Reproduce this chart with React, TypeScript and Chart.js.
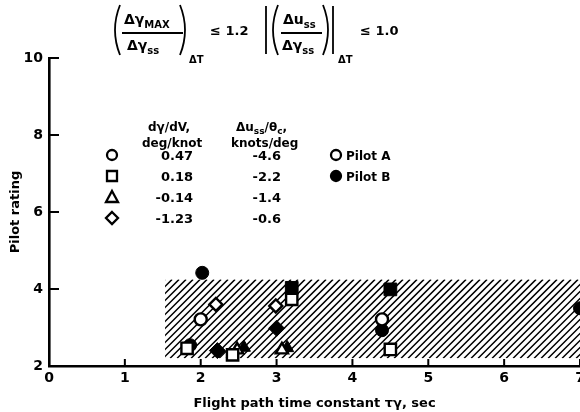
import React, { useEffect, useRef } from "react";
import { Chart, registerables } from "chart.js";

Chart.register(...registerables);

// ---- data ----
const TAU_A_CIRCLE = [2.0, 4.39];
const RATING_A_CIRCLE = [3.21, 3.21];
const TAU_B_CIRCLE = [2.02, 1.86, 4.39, 7.0];
const RATING_B_CIRCLE = [4.42, 2.54, 2.93, 3.5];
const TAU_A_SQUARE = [1.82, 2.42, 3.2, 4.5];
const RATING_A_SQUARE = [2.46, 2.29, 3.73, 2.43];
const TAU_B_SQUARE = [3.2, 4.5];
const RATING_B_SQUARE = [4.03, 3.99];
const TAU_A_TRIANGLE = [2.48, 3.07];
const RATING_A_TRIANGLE = [2.42, 2.42];
const TAU_B_TRIANGLE = [2.57, 3.14];
const RATING_B_TRIANGLE = [2.48, 2.47];
const TAU_A_DIAMOND = [2.2, 2.99];
const RATING_A_DIAMOND = [3.6, 3.56];
const TAU_B_DIAMOND = [2.22, 3.0];
const RATING_B_DIAMOND = [2.4, 2.98];

const HATCH_TAU = [1.53, 7.3];
const HATCH_RATING = [2.2, 4.25];

const X_TICKS = [0, 1, 2, 3, 4, 5, 6, 7];
const Y_TICKS = [2, 4, 6, 8, 10];

const SLOPES = ["0.47", "0.18", "-0.14", "-1.23"];
const DU_RATIOS = ["-4.6", "-2.2", "-1.4", "-0.6"];
const LEGEND_SYMBOLS = ["circle", "rect", "triangle", "rectRot"];
const PILOTS = ["Pilot A", "Pilot B"];

const FONT = '"DejaVu Sans", sans-serif';

const pts = (xs: number[], ys: number[]) => xs.map((x, i) => ({ x, y: ys[i] }));

function drawSymbol(ctx: CanvasRenderingContext2D, style: string, x: number, y: number, filled: boolean) {
  ctx.save();
  ctx.lineWidth = 2.3;
  ctx.strokeStyle = "#000";
  ctx.fillStyle = filled ? "#000" : "#fff";
  ctx.beginPath();
  if (style === "circle") {
    ctx.arc(x, y, 5, 0, Math.PI * 2);
  } else if (style === "rect") {
    ctx.rect(x - 5, y - 5, 10, 10);
  } else if (style === "triangle") {
    ctx.moveTo(x, y - 6);
    ctx.lineTo(x + 6, y + 5);
    ctx.lineTo(x - 6, y + 5);
    ctx.closePath();
  } else {
    ctx.moveTo(x, y - 6);
    ctx.lineTo(x + 6, y);
    ctx.lineTo(x, y + 6);
    ctx.lineTo(x - 6, y);
    ctx.closePath();
  }
  ctx.fill();
  ctx.stroke();
  ctx.restore();
}

type Part = { t: string; sub?: boolean };

function drawRich(ctx: CanvasRenderingContext2D, parts: Part[], x: number, y: number, size: number, align: "left" | "right" = "left") {
  const subSize = Math.round(size * 0.72);
  let w = 0;
  for (const p of parts) {
    ctx.font = `bold ${p.sub ? subSize : size}px ${FONT}`;
    w += ctx.measureText(p.t).width;
  }
  let cx = align === "right" ? x - w : x;
  ctx.textAlign = "left";
  ctx.textBaseline = "alphabetic";
  for (const p of parts) {
    ctx.font = `bold ${p.sub ? subSize : size}px ${FONT}`;
    ctx.fillText(p.t, cx, p.sub ? y + size * 0.28 : y);
    cx += ctx.measureText(p.t).width;
  }
}

function paren(ctx: CanvasRenderingContext2D, x: number, top: number, bottom: number, dir: number) {
  ctx.beginPath();
  ctx.moveTo(x, top);
  ctx.quadraticCurveTo(x - dir * 10, (top + bottom) / 2, x, bottom);
  ctx.stroke();
}

function bar(ctx: CanvasRenderingContext2D, x: number, top: number, bottom: number) {
  ctx.beginPath();
  ctx.moveTo(x, top);
  ctx.lineTo(x, bottom);
  ctx.stroke();
}

const hatchPlugin = {
  id: "hatch",
  beforeDatasetsDraw(chart: any) {
    const { ctx, chartArea, scales } = chart;
    const l = scales.x.getPixelForValue(HATCH_TAU[0]);
    const r = Math.min(scales.x.getPixelForValue(HATCH_TAU[1]), chartArea.right);
    const t = scales.y.getPixelForValue(HATCH_RATING[1]);
    const b = scales.y.getPixelForValue(HATCH_RATING[0]);
    const h = b - t;
    ctx.save();
    ctx.beginPath();
    ctx.rect(l, t, r - l, h);
    ctx.clip();
    ctx.strokeStyle = "#000";
    ctx.lineWidth = 1.5;
    ctx.beginPath();
    for (let k = l - h; k < r + 7; k += 7) {
      ctx.moveTo(k, b);
      ctx.lineTo(k + h, t);
    }
    ctx.stroke();
    ctx.restore();
  },
};

const decoPlugin = {
  id: "deco",
  afterDraw(chart: any) {
    const { ctx, chartArea, scales } = chart;
    ctx.save();
    ctx.strokeStyle = "#000";
    ctx.fillStyle = "#000";
    // inward tick marks
    ctx.lineWidth = 2;
    ctx.beginPath();
    for (const v of Y_TICKS.slice(1)) {
      const y = scales.y.getPixelForValue(v);
      ctx.moveTo(chartArea.left, y);
      ctx.lineTo(chartArea.left + 10, y);
    }
    for (const v of X_TICKS.slice(1)) {
      const x = scales.x.getPixelForValue(v);
      ctx.moveTo(x, chartArea.bottom);
      ctx.lineTo(x, chartArea.bottom - 7);
    }
    ctx.stroke();

    // formula 1
    ctx.lineWidth = 1.8;
    paren(ctx, 120, 5, 55, 1);
    drawRich(ctx, [{ t: "Δγ" }, { t: "MAX", sub: true }], 124, 24, 14);
    ctx.beginPath();
    ctx.moveTo(122, 33);
    ctx.lineTo(183, 33);
    ctx.stroke();
    drawRich(ctx, [{ t: "Δγ" }, { t: "ss", sub: true }], 127, 50, 14);
    paren(ctx, 180, 5, 55, -1);
    drawRich(ctx, [{ t: "ΔT" }], 189, 63, 10);
    drawRich(ctx, [{ t: "≤ 1.2" }], 210, 35, 13);

    // formula 2
    bar(ctx, 266, 6, 54);
    paren(ctx, 278, 5, 55, 1);
    drawRich(ctx, [{ t: "Δu" }, { t: "ss", sub: true }], 283, 24, 14);
    ctx.beginPath();
    ctx.moveTo(281, 33);
    ctx.lineTo(322, 33);
    ctx.stroke();
    drawRich(ctx, [{ t: "Δγ" }, { t: "ss", sub: true }], 282, 50, 14);
    paren(ctx, 323, 5, 55, -1);
    bar(ctx, 333, 6, 54);
    drawRich(ctx, [{ t: "ΔT" }], 338, 63, 10);
    drawRich(ctx, [{ t: "≤ 1.0" }], 360, 35, 13);

    // table header
    drawRich(ctx, [{ t: "dγ/dV," }], 148, 131, 12);
    drawRich(ctx, [{ t: "deg/knot" }], 142, 147, 12);
    drawRich(ctx, [{ t: "Δu" }, { t: "ss", sub: true }, { t: "/θ" }, { t: "c", sub: true }, { t: "," }], 236, 131, 12);
    drawRich(ctx, [{ t: "knots/deg" }], 231, 147, 12);

    const rowY = [155, 176, 197, 218];
    rowY.forEach((y, i) => {
      drawSymbol(ctx, LEGEND_SYMBOLS[i], 112, y, false);
      drawRich(ctx, [{ t: SLOPES[i] }], 193, y + 5, 13, "right");
      drawRich(ctx, [{ t: DU_RATIOS[i] }], 281, y + 5, 13, "right");
    });
    PILOTS.forEach((p, i) => {
      drawSymbol(ctx, "circle", 336, rowY[i], i === 1);
      drawRich(ctx, [{ t: p }], 346, rowY[i] + 5, 12);
    });
    ctx.restore();
  },
};

export default function App() {
  const ref = useRef<HTMLCanvasElement>(null);
  useEffect(() => {
    if (!ref.current) return;
    const open = (label: string, style: string, radius: number, xs: number[], ys: number[]) => ({
      label,
      data: pts(xs, ys),
      pointStyle: style,
      pointRadius: radius,
      pointBackgroundColor: "#fff",
      pointBorderColor: "#000",
      pointBorderWidth: 2.4,
      showLine: false,
    });
    const filled = (label: string, style: string, radius: number, xs: number[], ys: number[]) => ({
      label,
      data: pts(xs, ys),
      pointStyle: style,
      pointRadius: radius,
      pointBackgroundColor: "#000",
      pointBorderColor: "#000",
      pointBorderWidth: 1,
      showLine: false,
    });
    const chart = new Chart(ref.current, {
      type: "scatter",
      data: {
        datasets: [
          open("Pilot A circle", "circle", 6, TAU_A_CIRCLE, RATING_A_CIRCLE),
          open("Pilot A square", "rect", 8, TAU_A_SQUARE, RATING_A_SQUARE),
          open("Pilot A triangle", "triangle", 7, TAU_A_TRIANGLE, RATING_A_TRIANGLE),
          open("Pilot A diamond", "rectRot", 6.5, TAU_A_DIAMOND, RATING_A_DIAMOND),
          filled("Pilot B circle", "circle", 6.5, TAU_B_CIRCLE, RATING_B_CIRCLE),
          filled("Pilot B square", "rect", 9, TAU_B_SQUARE, RATING_B_SQUARE),
          filled("Pilot B triangle", "triangle", 7.5, TAU_B_TRIANGLE, RATING_B_TRIANGLE),
          filled("Pilot B diamond", "rectRot", 8, TAU_B_DIAMOND, RATING_B_DIAMOND),
        ] as any,
      },
      options: {
        animation: false,
        responsive: false,
        devicePixelRatio: 1,
        layout: { autoPadding: false, padding: { top: 58, right: 0, bottom: 0, left: 0 } },
        plugins: { legend: { display: false }, tooltip: { enabled: false } },
        scales: {
          x: {
            type: "linear",
            min: 0,
            max: 7,
            afterFit: (s: any) => {
              s.height = 46;
              s.paddingLeft = 0;
              s.paddingRight = 0;
            },
            afterBuildTicks: (s: any) => {
              s.ticks = X_TICKS.map((v) => ({ value: v }));
            },
            grid: { display: false, drawTicks: false },
            border: { display: true, color: "#000", width: 2.6 },
            ticks: {
              autoSkip: false,
              maxRotation: 0,
              padding: 4,
              color: "#000",
              font: { family: FONT, size: 14, weight: "bold" },
            },
            title: {
              display: true,
              text: "Flight path time constant τγ, sec",
              color: "#000",
              font: { family: FONT, size: 13, weight: "bold" },
              padding: { top: 0, bottom: 1 },
            },
          },
          y: {
            type: "linear",
            min: 2,
            max: 10,
            afterFit: (s: any) => {
              s.width = 49;
              s.paddingTop = 0;
              s.paddingBottom = 0;
            },
            afterBuildTicks: (s: any) => {
              s.ticks = Y_TICKS.map((v) => ({ value: v }));
            },
            grid: { display: false, drawTicks: false },
            border: { display: true, color: "#000", width: 2.6 },
            ticks: {
              padding: 6,
              color: "#000",
              font: { family: FONT, size: 14, weight: "bold" },
            },
            title: {
              display: true,
              text: "Pilot rating",
              color: "#000",
              font: { family: FONT, size: 13, weight: "bold" },
              padding: { top: 8, bottom: 0 },
            },
          },
        },
      } as any,
      plugins: [hatchPlugin, decoPlugin],
    });
    return () => chart.destroy();
  }, []);
  return (
    <div style={{ position: "absolute", left: 0, top: 0, width: 580, height: 412, background: "#fff" }}>
      <canvas ref={ref} width={580} height={412} style={{ display: "block" }} />
    </div>
  );
}
